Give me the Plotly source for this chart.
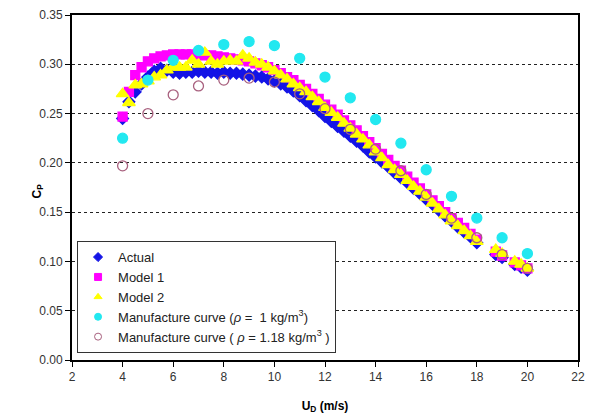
import plotly.graph_objects as go

# Dense series wind speeds (m/s)
x_dense = [4.0, 4.25, 4.5, 4.75, 5.0, 5.25, 5.5, 5.75, 6.0, 6.25, 6.5, 6.75, 7.0, 7.25, 7.5, 7.75,
           8.0, 8.25, 8.5, 8.75, 9.0, 9.25, 9.5, 9.75, 10.0, 10.25, 10.5, 10.75, 11.0, 11.25, 11.5, 11.75,
           12.0, 12.25, 12.5, 12.75, 13.0, 13.25, 13.5, 13.75, 14.0, 14.25, 14.5, 14.75, 15.0, 15.25, 15.5, 15.75,
           16.0, 16.25, 16.5, 16.75, 17.0, 17.25, 17.5, 17.75, 18.0, 18.75, 19.0, 19.5, 19.75, 20.0]

actual = [0.245, 0.262, 0.272, 0.280, 0.287, 0.293, 0.296, 0.294, 0.292, 0.291, 0.292, 0.292, 0.293, 0.292, 0.292, 0.291,
          0.292, 0.291, 0.291, 0.290, 0.289, 0.288, 0.287, 0.285, 0.283, 0.280, 0.277, 0.273, 0.268, 0.263, 0.258, 0.253,
          0.247, 0.242, 0.237, 0.232, 0.227, 0.222, 0.217, 0.211, 0.206, 0.201, 0.196, 0.190, 0.185, 0.180, 0.174, 0.169,
          0.163, 0.158, 0.152, 0.146, 0.141, 0.135, 0.130, 0.125, 0.119, 0.107, 0.104, 0.097, 0.094, 0.091]

model1 = [0.247, 0.272, 0.289, 0.297, 0.303, 0.306, 0.308, 0.309, 0.310, 0.310, 0.310, 0.310, 0.310, 0.309, 0.309, 0.308,
          0.307, 0.306, 0.305, 0.304, 0.303, 0.301, 0.299, 0.297, 0.294, 0.291, 0.287, 0.284, 0.279, 0.275, 0.270, 0.265,
          0.259, 0.254, 0.249, 0.243, 0.238, 0.233, 0.227, 0.221, 0.215, 0.209, 0.203, 0.197, 0.192, 0.186, 0.180, 0.174,
          0.168, 0.162, 0.156, 0.150, 0.144, 0.139, 0.134, 0.128, 0.122, 0.110, 0.106, 0.099, 0.096, 0.093]

model2 = [0.270, 0.261, 0.279, 0.280, 0.283, 0.287, 0.289, 0.294, 0.297, 0.297, 0.297, 0.304, 0.300, 0.312, 0.303, 0.300,
          0.303, 0.304, 0.303, 0.309, 0.306, 0.302, 0.300, 0.297, 0.293, 0.289, 0.285, 0.280, 0.276, 0.272, 0.267, 0.262,
          0.256, 0.251, 0.246, 0.240, 0.235, 0.229, 0.224, 0.218, 0.211, 0.205, 0.198, 0.193, 0.188, 0.182, 0.176, 0.171,
          0.165, 0.159, 0.153, 0.147, 0.141, 0.136, 0.131, 0.126, 0.120, 0.112, 0.108, 0.100, 0.097, 0.093]

# Manufacture curves at integer speeds
x_manu = [4, 5, 6, 7, 8, 9, 10, 11, 12, 13, 14, 15, 16, 17, 18, 19, 20]
manu_rho1 = [0.225, 0.284, 0.304, 0.314, 0.320, 0.323, 0.319, 0.306, 0.287, 0.266, 0.244, 0.220, 0.193,
             0.166, 0.144, 0.124, 0.108]
manu_rho118 = [0.197, 0.250, 0.269, 0.278, 0.284, 0.286, 0.282, 0.270, 0.255, 0.234, 0.214, 0.192, 0.168,
               0.144, 0.124, 0.107, 0.093]

x_ticks = [2, 4, 6, 8, 10, 12, 14, 16, 18, 20, 22]
y_ticks = [0.0, 0.05, 0.10, 0.15, 0.20, 0.25, 0.30, 0.35]

names = ["Actual", "Model 1", "Model 2",
         "Manufacture curve (<i>ρ</i> =  1 kg/m<sup>3</sup>)",
         "Manufacture curve ( <i>ρ</i> = 1.18 kg/m<sup>3</sup> )"]
symbols = ["diamond", "square", "triangle-up", "circle", "circle-open"]
colors = ["#1414E6", "#FF00FF", "#FFFF00", "#22E8F0", "#A8607E"]
sizes = [9, 9, 11, 10, 10]
xs = [x_dense, x_dense, x_dense, x_manu, x_manu]
ys = [actual, model1, model2, manu_rho1, manu_rho118]

fig = go.Figure()
for xv, yv, n, s, c, sz in zip(xs, ys, names, symbols, colors, sizes):
    fig.add_trace(go.Scatter(x=xv, y=yv, mode="markers", name=n, showlegend=False,
                             marker=dict(symbol=s, size=sz, color=c, line=dict(width=1.3, color=c))))
# legend entries with small symbols (no data points)
for n, s, c in zip(names, symbols, colors):
    fig.add_trace(go.Scatter(x=[None], y=[None], mode="markers", name=n, showlegend=True,
                             marker=dict(symbol=s, size=7, color=c, line=dict(width=1, color=c))))

axis_font = dict(family="Liberation Sans, Arial", size=12, color="#333333")
fig.update_layout(
    width=593, height=419,
    margin=dict(l=72, r=8, t=13, b=58),
    paper_bgcolor="white", plot_bgcolor="white",
    font=dict(family="Liberation Sans, Arial", size=12, color="#000000"),
    showlegend=True,
    legend=dict(x=0.01, y=0.02, xanchor="left", yanchor="bottom",
                bgcolor="white", bordercolor="#333333", borderwidth=1,
                font=dict(family="Liberation Sans, Arial", size=13, color="#222222"),
                itemwidth=30, tracegroupgap=0),
    xaxis=dict(range=[2, 22], tickvals=x_ticks, ticks="outside", ticklen=5, tickcolor="black",
               showline=True, linecolor="black", linewidth=2, mirror=True,
               showgrid=False, zeroline=False, tickfont=axis_font,
               title=dict(text="<b>U<sub>D</sub> (m/s)</b>", font=dict(family="Liberation Sans, Arial", size=12),
                          standoff=18)),
    yaxis=dict(range=[0, 0.35], tickvals=y_ticks, tickformat=".2f", ticks="outside", ticklen=5,
               tickcolor="black", showline=True, linecolor="black", linewidth=2, mirror=True,
               showgrid=True, gridcolor="#222222", griddash="dot", gridwidth=1,
               zeroline=False, tickfont=axis_font),
    annotations=[dict(text="<b>C<sub>P</sub></b>", xref="paper", yref="paper", x=-0.068, y=0.49,
                      xanchor="center", yanchor="middle", textangle=-90, showarrow=False,
                      font=dict(family="Liberation Sans, Arial", size=12, color="#000000"))],
)

fig.write_html("out.html")
